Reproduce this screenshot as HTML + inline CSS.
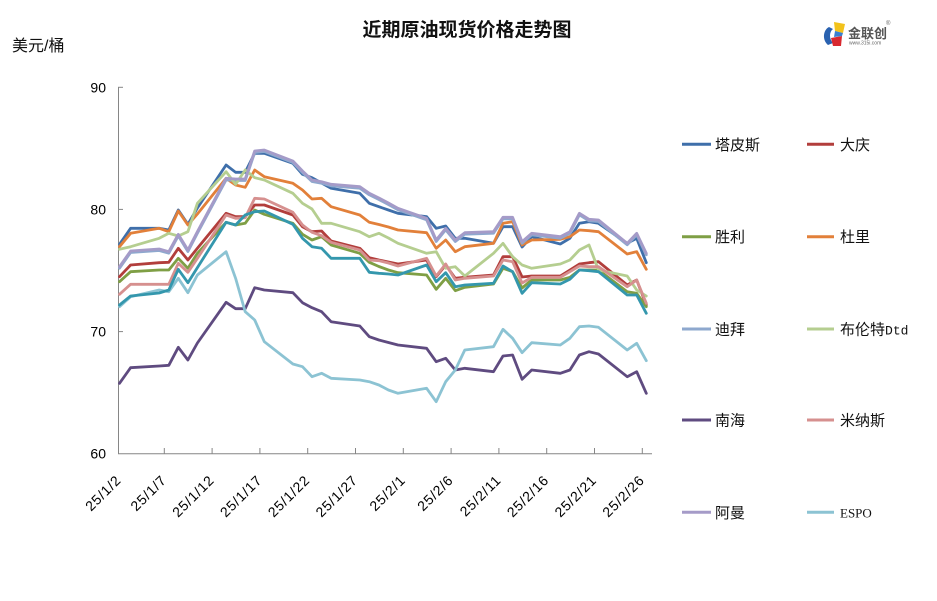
<!DOCTYPE html>
<html>
<head>
<meta charset="utf-8">
<style>
html,body{margin:0;padding:0;background:#fff;}
body{width:937px;height:601px;overflow:hidden;}
svg{display:block;}
.cjk{font-family:"Liberation Sans","Noto Sans CJK SC",sans-serif;}
.ax{font-family:"Liberation Sans",sans-serif;font-size:14px;fill:#000;}
.ln{fill:none;stroke-width:2.8;stroke-linejoin:round;stroke-linecap:round;}
</style>
</head>
<body>
<svg width="937" height="601" viewBox="0 0 937 601" xmlns="http://www.w3.org/2000/svg">
<rect x="0" y="0" width="937" height="601" fill="#fff"/>

<!-- Title -->
<text x="467" y="36" text-anchor="middle" class="cjk" font-size="19" font-weight="bold" fill="#111">近期原油现货价格走势图</text>
<text x="12" y="51" class="cjk" font-size="16" fill="#111">美元/桶</text>

<!-- Logo -->
<g>
  <path d="M829,27 C823,30 822,40 828,45 L833,43 C829,39 829,32 833,29 Z" fill="#2a62b0"/>
  <path d="M834,22 L845,24 L843,33 L835,31 Z" fill="#f2c21b"/>
  <path d="M831,38 L842,36 L841,46 L833,46 Z" fill="#d8282f"/>
  <path d="M835,31 L843,33 L842,36 L834,37 Z" fill="#3a7fcf"/>
  <text x="848" y="38" class="cjk" font-size="13" font-weight="bold" fill="#555">金联创</text>
  <text x="849" y="44.5" font-family="Liberation Sans,sans-serif" font-size="5" fill="#666">www.315i.com</text>
  <text x="886" y="25" font-family="Liberation Sans,sans-serif" font-size="6" fill="#666">®</text>
</g>

<!-- Axes -->
<g stroke="#868686" stroke-width="1" fill="none">
  <line x1="118.5" y1="87" x2="118.5" y2="454"/>
  <line x1="118" y1="453.7" x2="652" y2="453.7"/>
  <line x1="118" y1="87.3" x2="123" y2="87.3"/>
  <line x1="118" y1="209.4" x2="123" y2="209.4"/>
  <line x1="118" y1="331.6" x2="123" y2="331.6"/>
  <line x1="164.3" y1="448" x2="164.3" y2="453.7"/>
  <line x1="212.1" y1="448" x2="212.1" y2="453.7"/>
  <line x1="259.9" y1="448" x2="259.9" y2="453.7"/>
  <line x1="307.7" y1="448" x2="307.7" y2="453.7"/>
  <line x1="355.5" y1="448" x2="355.5" y2="453.7"/>
  <line x1="403.3" y1="448" x2="403.3" y2="453.7"/>
  <line x1="451.1" y1="448" x2="451.1" y2="453.7"/>
  <line x1="498.9" y1="448" x2="498.9" y2="453.7"/>
  <line x1="546.7" y1="448" x2="546.7" y2="453.7"/>
  <line x1="594.5" y1="448" x2="594.5" y2="453.7"/>
  <line x1="642.3" y1="448" x2="642.3" y2="453.7"/>
</g>

<!-- Y labels -->
<g class="ax" text-anchor="end">
  <text x="106" y="92.3">90</text>
  <text x="106" y="214.4">80</text>
  <text x="106" y="336.6">70</text>
  <text x="106" y="458.7">60</text>
</g>

<!-- X labels -->
<g class="ax" text-anchor="end" letter-spacing="0.8">
  <text transform="translate(122,481) rotate(-45)">25/1/2</text>
  <text transform="translate(167.3,481) rotate(-45)">25/1/7</text>
  <text transform="translate(215.1,481) rotate(-45)">25/1/12</text>
  <text transform="translate(262.9,481) rotate(-45)">25/1/17</text>
  <text transform="translate(310.7,481) rotate(-45)">25/1/22</text>
  <text transform="translate(358.5,481) rotate(-45)">25/1/27</text>
  <text transform="translate(406.3,481) rotate(-45)">25/2/1</text>
  <text transform="translate(454.1,481) rotate(-45)">25/2/6</text>
  <text transform="translate(501.9,481) rotate(-45)">25/2/11</text>
  <text transform="translate(549.7,481) rotate(-45)">25/2/16</text>
  <text transform="translate(597.5,481) rotate(-45)">25/2/21</text>
  <text transform="translate(645.3,481) rotate(-45)">25/2/26</text>
</g>

<!-- Series -->
<polyline class="ln" stroke="#3F6FAA" points="119.5,244.3 130.6,228.3 159.2,228.3 168.8,230 178.3,210 187.9,224.3 197.4,208 226.1,165 235.6,172.3 245.2,172.3 254.7,153.3 264.3,153.3 292.9,163.3 302.5,174.3 312,177.7 321.6,183 331.1,188.3 359.8,193.3 369.3,203.3 378.9,206.7 388.4,210 398,213.3 426.6,216.7 436.2,228.3 445.7,226 455.3,238.3 464.8,238.3 493.5,243.3 503,226.7 512.6,226.7 522.1,247 531.7,236.7 560.3,244 569.9,238.3 579.4,223.3 589,221.7 598.5,223.3 627.2,243.3 636.7,238.3 646.3,262.7"/>
<polyline class="ln" stroke="#B23E3C" points="119.5,276.7 130.6,265 159.2,262.7 168.8,262.3 178.3,248.3 187.9,260 197.4,248.3 226.1,213.3 235.6,216.7 245.2,216.7 254.7,205 264.3,205 292.9,215 302.5,226.7 312,231.7 321.6,231 331.1,241 359.8,248.3 369.3,257.7 378.9,260 388.4,262 398,264 426.6,260 436.2,276.7 445.7,265 455.3,278.3 464.8,277.3 493.5,275 503,256.7 512.6,256.7 522.1,277 531.7,276 560.3,276 569.9,270 579.4,264 589,262.7 598.5,261.7 627.2,285 636.7,280 646.3,305"/>
<polyline class="ln" stroke="#7F9F45" points="119.5,281.7 130.6,271.7 159.2,270 168.8,270 178.3,258.3 187.9,268.3 197.4,253.3 226.1,222.3 235.6,225 245.2,223.3 254.7,210 264.3,214.3 292.9,223.3 302.5,234.3 312,240 321.6,236.7 331.1,245 359.8,253.3 369.3,262.3 378.9,266.5 388.4,270 398,272.7 426.6,275 436.2,289.3 445.7,278.3 455.3,290.7 464.8,287.3 493.5,284 503,268.3 512.6,271.7 522.1,288 531.7,280 560.3,280 569.9,277.3 579.4,270 589,270 598.5,270 627.2,291.7 636.7,293.3 646.3,306.7"/>
<polyline class="ln" stroke="#E2803A" points="119.5,246.7 130.6,233.3 159.2,228.3 168.8,231.7 178.3,211 187.9,225 197.4,214 226.1,178.3 235.6,185 245.2,187.3 254.7,170 264.3,176.7 292.9,183.3 302.5,190 312,199 321.6,198.3 331.1,206.7 359.8,215 369.3,222.3 378.9,224.5 388.4,227 398,230 426.6,232.7 436.2,248.3 445.7,240 455.3,251.7 464.8,246.7 493.5,243.3 503,223.3 512.6,221.7 522.1,245 531.7,240 560.3,239.3 569.9,236.7 579.4,230 589,230.7 598.5,231.7 627.2,254 636.7,251.7 646.3,269.3"/>
<polyline class="ln" stroke="#8EA8CE" points="119.5,268.2 130.6,252.5 159.2,250.5 168.8,253.2 178.3,235.8 187.9,251.5 197.4,233.2 226.1,179.8 235.6,180.5 245.2,180.5 254.7,152.5 264.3,151.5 292.9,162.5 302.5,172.5 312,181.5 321.6,183.2 331.1,185.8 359.8,188.2 369.3,194.8 378.9,199.5 388.4,204.5 398,209.8 426.6,219.8 436.2,241.5 445.7,229.8 455.3,241.5 464.8,234.2 493.5,233.2 503,218.8 512.6,218.8 522.1,243.2 531.7,234.8 560.3,238.2 569.9,233.2 579.4,214.8 589,220.8 598.5,221.5 627.2,244.8 636.7,234.8 646.3,254.8"/>
<polyline class="ln" stroke="#B5CE90" points="119.5,249.3 130.6,246.7 159.2,238.3 168.8,233.3 178.3,236 187.9,231.7 197.4,203.3 226.1,171.7 235.6,184.3 245.2,170 254.7,177.7 264.3,180 292.9,193.3 302.5,203.3 312,209 321.6,223.3 331.1,223.3 359.8,231.7 369.3,236.7 378.9,233.3 388.4,238 398,243.3 426.6,253.3 436.2,251.7 445.7,268.3 455.3,266.7 464.8,276 493.5,253.3 503,243.3 512.6,256.7 522.1,265 531.7,268.3 560.3,264 569.9,260 579.4,250 589,245 598.5,270 627.2,276 636.7,290 646.3,296"/>
<polyline class="ln" stroke="#5F4B80" points="119.5,383.3 130.6,367.7 159.2,366 168.8,365.3 178.3,347.3 187.9,360 197.4,343 226.1,302.3 235.6,308.7 245.2,308.7 254.7,287.7 264.3,290 292.9,292.7 302.5,302.7 312,307.7 321.6,311.7 331.1,321.7 359.8,326 369.3,336.7 378.9,340 388.4,342.5 398,345 426.6,348.3 436.2,361.7 445.7,358.3 455.3,370 464.8,368.3 493.5,371.7 503,356 512.6,355 522.1,379.3 531.7,370 560.3,373.3 569.9,370 579.4,355 589,351.7 598.5,354 627.2,376.7 636.7,371.7 646.3,393.3"/>
<polyline class="ln" stroke="#D6908F" points="119.5,294.3 130.6,284.3 159.2,284.3 168.8,284.3 178.3,263.3 187.9,272.3 197.4,258.3 226.1,215 235.6,218.3 245.2,217.7 254.7,198.3 264.3,199 292.9,212.3 302.5,225 312,232.3 321.6,235.7 331.1,242.3 359.8,250 369.3,260 378.9,260.7 388.4,263 398,266 426.6,258.3 436.2,276 445.7,264 455.3,280 464.8,278.3 493.5,276 503,260 512.6,261.7 522.1,283 531.7,277.3 560.3,277.3 569.9,271.7 579.4,266 589,266.7 598.5,266.7 627.2,286.7 636.7,280 646.3,303.3"/>
<polyline class="ln" stroke="#A59BC8" points="119.5,266.7 130.6,251 159.2,249 168.8,251.7 178.3,234.3 187.9,250 197.4,231.7 226.1,178.3 235.6,179 245.2,179 254.7,151 264.3,150 292.9,161 302.5,171 312,180 321.6,181.7 331.1,184.3 359.8,186.7 369.3,193.3 378.9,198 388.4,203 398,208.3 426.6,218.3 436.2,240 445.7,228.3 455.3,240 464.8,232.7 493.5,231.7 503,217.3 512.6,217.3 522.1,241.7 531.7,233.3 560.3,236.7 569.9,231.7 579.4,213.3 589,219.3 598.5,220 627.2,243.3 636.7,233.3 646.3,253.3"/>
<polyline class="ln" stroke="#8CC3D3" points="119.5,306.7 130.6,296.7 159.2,290 168.8,291.7 178.3,278.3 187.9,292.7 197.4,275 226.1,251.7 235.6,278.3 245.2,311.7 254.7,320 264.3,341.7 292.9,364 302.5,366.7 312,376.7 321.6,373.3 331.1,378.3 359.8,380 369.3,381.7 378.9,385 388.4,390 398,393.3 426.6,388.3 436.2,401.7 445.7,381.7 455.3,370 464.8,350 493.5,346.7 503,329.3 512.6,338.3 522.1,352.7 531.7,342.7 560.3,345 569.9,338.3 579.4,326.7 589,326 598.5,327.3 627.2,350 636.7,343.3 646.3,360.7"/>
<polyline class="ln" stroke="#3497AD" points="119.5,305 130.6,296 159.2,293 168.8,290 178.3,269.3 187.9,282.7 197.4,267.6 226.1,222.3 235.6,225 245.2,215 254.7,211.7 264.3,211 292.9,224.3 302.5,238.3 312,246.7 321.6,248.3 331.1,258.3 359.8,258.3 369.3,272.3 378.9,273.3 388.4,274 398,275 426.6,265 436.2,281.7 445.7,272.7 455.3,286.7 464.8,285 493.5,283.3 503,266 512.6,271.7 522.1,293.3 531.7,282.7 560.3,284 569.9,279.3 579.4,270 589,270.7 598.5,271.7 627.2,295 636.7,295 646.3,313.3"/>

<!-- Legend -->
<g stroke-width="3">
  <line x1="682" y1="144.3" x2="711" y2="144.3" stroke="#3F6FAA"/>
  <line x1="807" y1="144.3" x2="834" y2="144.3" stroke="#B23E3C"/>
  <line x1="682" y1="236.7" x2="711" y2="236.7" stroke="#7F9F45"/>
  <line x1="807" y1="236.7" x2="834" y2="236.7" stroke="#E2803A"/>
  <line x1="682" y1="329" x2="711" y2="329" stroke="#8EA8CE"/>
  <line x1="807" y1="329" x2="834" y2="329" stroke="#B5CE90"/>
  <line x1="682" y1="420" x2="711" y2="420" stroke="#5F4B80"/>
  <line x1="807" y1="420" x2="834" y2="420" stroke="#D6908F"/>
  <line x1="682" y1="512.3" x2="711" y2="512.3" stroke="#A59BC8"/>
  <line x1="807" y1="512.3" x2="834" y2="512.3" stroke="#8CC3D3"/>
</g>
<g class="cjk" font-size="15" fill="#111">
  <text x="715" y="149.8">塔皮斯</text>
  <text x="840" y="149.8">大庆</text>
  <text x="715" y="242.2">胜利</text>
  <text x="840" y="242.2">杜里</text>
  <text x="715" y="334.5">迪拜</text>
  <text x="840" y="334.5">布伦特<tspan font-family="Liberation Mono,monospace" font-size="13">Dtd</tspan></text>
  <text x="715" y="425.5">南海</text>
  <text x="840" y="425.5">米纳斯</text>
  <text x="715" y="517.8">阿曼</text>
  <text x="840" y="517.3" font-family="Liberation Serif,serif" font-size="13">ESPO</text>
</g>
</svg>
</body>
</html>
